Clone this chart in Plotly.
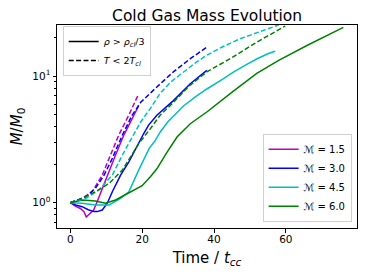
import plotly.graph_objects as go

# ---- data ----
mach_labels = ["ℳ = 1.5", "ℳ = 3.0", "ℳ = 4.5", "ℳ = 6.0"]
colors = ["#bf00bf", "#0000ff", "#00bfbf", "#008000"]

# rho > rho_cl/3 (solid)
t_m15_rho = [0, 1.4, 2.8, 3.8, 4.45, 5.5, 6.5, 7.5, 8.9, 10.8, 12.6, 14.9, 16.8, 19]
m_m15_rho = [1.0, 0.94, 0.9, 0.85, 0.77, 0.82, 0.875, 1.02, 1.3, 1.76, 2.38, 3.42, 4.36, 5.8]

t_m30_rho = [0, 1.5, 3.3, 5, 6.6, 7.5, 8.9, 10.3, 11.7, 13, 14, 16.3, 19.1, 20.4, 21.8, 24.1, 28.7, 33.4, 38]
m_m30_rho = [1.0, 0.96, 0.93, 0.88, 0.85, 0.85, 0.875, 0.99, 1.22, 1.45, 1.65, 2.1, 3.03, 3.5, 4.1, 4.9, 6.4, 8.7, 11.1]

t_m45_rho = [0, 3.3, 7, 10.8, 14, 16.3, 19, 20.5, 22, 23.5, 25, 27, 29, 31.5, 35, 38, 42, 45.5, 49, 52, 55, 57]
m_m45_rho = [1.0, 0.99, 0.96, 0.96, 1.08, 1.22, 1.8, 2.2, 2.7, 3.05, 3.6, 4.3, 4.9, 5.8, 6.9, 7.9, 9.3, 10.8, 12.3, 13.7, 15.0, 15.7]

t_m60_rho = [0, 3.3, 7, 9.8, 12.6, 16.3, 20, 22.3, 24.1, 26.9, 29.7, 33.4, 38, 45.4, 51.9, 58, 66, 76]
m_m60_rho = [1.0, 1.05, 1.03, 0.99, 1.05, 1.19, 1.36, 1.6, 1.85, 2.5, 3.3, 4.2, 5.2, 7.6, 10.5, 13.3, 17.5, 24.2]

# T < 2 T_cl (dashed)
t_m15_T = [0, 3.3, 6.1, 8.9, 11.2, 13.5, 16.3, 19]
m_m15_T = [1.0, 1.08, 1.22, 1.65, 2.38, 3.42, 4.92, 7.2]

t_m30_T = [0, 1.9, 4.3, 7, 9.4, 11.7, 14.5, 17.2, 19.6, 24.1, 28.7, 33.4, 38]
m_m30_T = [1.0, 1.05, 1.11, 1.3, 1.65, 2.24, 3.42, 4.9, 6.2, 8.2, 10.8, 13.7, 16.9]

t_m45_T = [0, 4.3, 8, 11.7, 14.5, 18.2, 19.5, 22.3, 25, 28, 31.5, 35, 38, 42, 47.3, 52, 58]
m_m45_T = [1.0, 1.08, 1.26, 1.65, 2.38, 3.63, 4.3, 5.56, 7.3, 9.0, 10.8, 12.8, 14.6, 16.8, 19.7, 22.0, 25.3]

t_m60_T = [0, 3.3, 7, 10.8, 14.5, 19.1, 22.3, 25, 28.7, 33, 38, 44.5, 51.9, 59.8]
m_m60_T = [1.0, 1.08, 1.22, 1.42, 1.81, 2.94, 3.84, 4.9, 6.2, 8.3, 10.8, 13.7, 18.5, 24.8]

rho_series = [(t_m15_rho, m_m15_rho), (t_m30_rho, m_m30_rho), (t_m45_rho, m_m45_rho), (t_m60_rho, m_m60_rho)]
T_series = [(t_m15_T, m_m15_T), (t_m30_T, m_m30_T), (t_m45_T, m_m45_T), (t_m60_T, m_m60_T)]

style_labels = ["<i>ρ</i> &gt; <i>ρ</i><sub><i>cl</i></sub>/3", "<i>T</i> &lt; 2<i>T</i><sub><i>cl</i></sub>"]

x_ticks = [0, 20, 40, 60]
y_ticks = [1, 10]
y_ticktext = ["10<sup>0</sup>", "10<sup>1</sup>"]
y_minor = [0.7, 0.8, 0.9, 2, 3, 4, 5, 6, 7, 8, 9, 20]

FONT = "DejaVu Sans"
DASH = "5px,2.4px"

fig = go.Figure()

for (t, m), col, lab in zip(rho_series, colors, mach_labels):
    fig.add_trace(go.Scatter(x=t, y=m, mode="lines", name=lab,
                             line=dict(color=col, width=1.5),
                             legend="legend2", showlegend=True))
for (t, m), col in zip(T_series, colors):
    fig.add_trace(go.Scatter(x=t, y=m, mode="lines",
                             line=dict(color=col, width=1.5, dash=DASH),
                             showlegend=False))

# style legend entries
fig.add_trace(go.Scatter(x=[None], y=[None], mode="lines", name=style_labels[0],
                         line=dict(color="black", width=1.5), legend="legend"))
fig.add_trace(go.Scatter(x=[None], y=[None], mode="lines", name=style_labels[1],
                         line=dict(color="black", width=1.5, dash=DASH), legend="legend"))

fig.update_layout(
    width=365, height=274,
    margin=dict(l=57, r=8, t=25, b=46, autoexpand=False),
    paper_bgcolor="white", plot_bgcolor="white",
    font=dict(family=FONT, color="black"),
    title=dict(text="Cold Gas Mass Evolution", x=0.5675, xanchor="center",
               y=0.943, yanchor="middle", font=dict(size=15.5, color="black")),
    legend=dict(x=0.019, y=0.995, xanchor="left", yanchor="top",
                bgcolor="rgba(255,255,255,0.8)", bordercolor="#d0d0d0", borderwidth=1,
                font=dict(size=9.5, color="black"), itemwidth=30),
    legend2=dict(x=0.982, y=0.031, xanchor="right", yanchor="bottom",
                 bgcolor="rgba(255,255,255,0.8)", bordercolor="#d0d0d0", borderwidth=1,
                 font=dict(size=10, color="black"), itemwidth=30),
    showlegend=True,
    hovermode=False,
)

fig.update_xaxes(range=[-3.7, 79.8], tickvals=x_ticks, ticks="outside", ticklen=3.5,
                 tickcolor="black", showline=True, linecolor="black", linewidth=1,
                 mirror=True, showgrid=False, zeroline=False, automargin=False,
                 ticklabelstandoff=-2,
                 tickfont=dict(size=10.5, color="black"),
                 title=dict(text="Time / <i>t</i><sub><i>cc</i></sub>",
                            font=dict(size=15, color="black"), standoff=8))
fig.update_yaxes(type="log", range=[-0.2, 1.403], tickvals=y_ticks, ticktext=y_ticktext,
                 ticks="outside", ticklen=3.5, tickcolor="black",
                 showline=True, linecolor="black", linewidth=1, mirror=True,
                 showgrid=False, zeroline=False, automargin=False,
                 minor=dict(ticks="outside", ticklen=2, tickcolor="black", showgrid=False,
                            tickvals=y_minor),
                 tickfont=dict(size=10.5, color="black"),
                 title=dict(text="<i>M</i>/<i>M</i><sub>0</sub>",
                            font=dict(size=15, color="black"), standoff=6))

fig.write_html("out.html",
               config={"displayModeBar": False, "staticPlot": True},
               post_script="document.body.style.margin='0';document.body.style.overflow='hidden';")
